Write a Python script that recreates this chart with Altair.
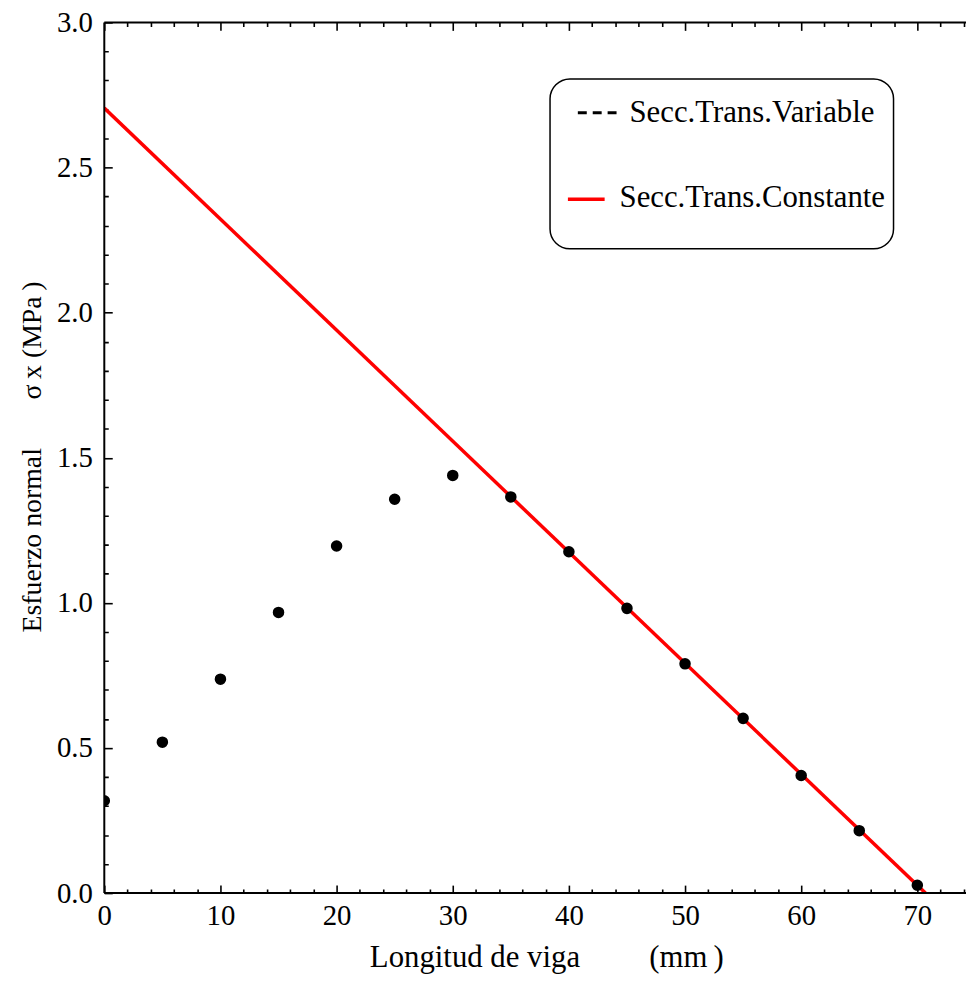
import altair as alt
import pandas as pd

# ---- data ----
var_x = [0, 5, 10, 15, 20, 25, 30, 35, 40, 45, 50, 55, 60, 65, 70]
var_y = [0.318, 0.520, 0.737, 0.967, 1.196, 1.357, 1.439, 1.365, 1.176, 0.981,
         0.790, 0.602, 0.405, 0.215, 0.027]
const_x = [0.0, 70.7]
const_y = [2.705, 0.0]

x_major = [0, 10, 20, 30, 40, 50, 60, 70]
x_minor = [2, 4, 6, 8, 12, 14, 16, 18, 22, 24, 26, 28, 32, 34, 36, 38, 42, 44,
           46, 48, 52, 54, 56, 58, 62, 64, 66, 68, 72, 74]
y_major = [0.0, 0.5, 1.0, 1.5, 2.0, 2.5, 3.0]
y_minor = [0.1, 0.2, 0.3, 0.4, 0.6, 0.7, 0.8, 0.9, 1.1, 1.2, 1.3, 1.4, 1.6, 1.7,
           1.8, 1.9, 2.1, 2.2, 2.3, 2.4, 2.6, 2.7, 2.8, 2.9]
x_lim = [0.0, 74.19]
y_lim = [0.0, 3.0]

legend_labels = ["Secc.Trans.Variable", "Secc.Trans.Constante"]

x_title = "Longitud de viga" + "\u00a0" * 9 + "(mm\u2009)"
y_title = "Esfuerzo normal" + "\u00a0" * 7 + "\u03c3\u2009x\u00a0(MPa\u2009)"

W, H = 868, 877
FONT = "Liberation Serif"
TICK = 8  # inward tick length (axes are pulled inside by this much)

xs = alt.Scale(domain=x_lim, nice=False, zero=False)
ys = alt.Scale(domain=y_lim, nice=False, zero=False)

x_vals = sorted(x_major + x_minor)
y_vals = sorted(y_major + y_minor)
x_minor_test = "datum.value % 10 !== 0"
y_minor_test = "round(datum.value * 10) % 5 !== 0"
minor_dash = [0, 4, 4]

common_axis = dict(domain=False, grid=False, ticks=True, tickSize=TICK,
                   tickWidth=1.6, tickColor="black", offset=-TICK,
                   labelFont=FONT, labelFontSize=29, labelColor="black",
                   labelFlush=False, labelOverlap=False)

xaxis_bottom = alt.Axis(values=x_vals, format="d",
                        labelExpr="datum.value % 10 === 0 ? datum.label : ''",
                        tickDash={"condition": {"test": x_minor_test, "value": minor_dash},
                                  "value": []},
                        labelPadding=9,
                        title=x_title, titleFont=FONT, titleFontSize=31,
                        titleFontWeight="normal", titleColor="black",
                        titleAlign="left", titleAnchor="start",
                        titleX=267, titleY=74 + TICK, titleBaseline="alphabetic",
                        **common_axis)
xaxis_top = alt.Axis(orient="top", values=x_vals, labels=False, title="",
                     tickDash={"condition": {"test": x_minor_test, "value": minor_dash},
                               "value": []},
                     **common_axis)
yaxis = alt.Axis(values=y_vals, format=".1f",
                 labelExpr="round(datum.value * 10) % 5 === 0 ? datum.label : ''",
                 tickDash={"condition": {"test": y_minor_test, "value": minor_dash},
                           "value": []},
                 labelPadding=12,
                 title=y_title, titleFont=FONT, titleFontSize=28,
                 titleFontWeight="normal", titleColor="black",
                 titleAngle=270, titleAlign="left", titleAnchor="start",
                 titleX=-64 - TICK, titleY=614, titleBaseline="alphabetic",
                 **common_axis)

df_var = pd.DataFrame({"x": var_x, "y": var_y})
df_const = pd.DataFrame({"x": const_x, "y": const_y})

line = alt.Chart(df_const).mark_line(color="#ff0000", strokeWidth=3.5, clip=True).encode(
    x=alt.X("x:Q", scale=xs, axis=xaxis_bottom),
    y=alt.Y("y:Q", scale=ys, axis=yaxis))
pts = alt.Chart(df_var).mark_circle(color="black", opacity=1, size=135, clip=True).encode(
    x=alt.X("x:Q", scale=xs, axis=xaxis_top),
    y=alt.Y("y:Q", scale=ys, axis=yaxis))

one = pd.DataFrame({"a": [0]})
frame_bottom = alt.Chart(one).mark_rule(color="black", strokeWidth=2).encode(
    x=alt.value(0), x2=alt.value(W), y=alt.value(H))
frame_top = alt.Chart(one).mark_rule(color="black", strokeWidth=2).encode(
    x=alt.value(0), x2=alt.value(W), y=alt.value(0))
frame_left = alt.Chart(one).mark_rule(color="black", strokeWidth=2).encode(
    x=alt.value(0), y=alt.value(0), y2=alt.value(H))

# legend
leg_df = pd.DataFrame({"label": legend_labels})
box = alt.Chart(one).mark_rect(
    fill="white", stroke="black", strokeWidth=1.5, cornerRadius=20).encode(
    x=alt.value(449), x2=alt.value(795), y=alt.value(57), y2=alt.value(228))
leg_dash = alt.Chart(one).mark_rule(
    color="black", strokeWidth=3, strokeDash=[9, 6]).encode(
    x=alt.value(477), x2=alt.value(516), y=alt.value(91))
leg_red = alt.Chart(one).mark_rule(
    color="#ff0000", strokeWidth=3.5).encode(
    x=alt.value(467), x2=alt.value(504), y=alt.value(178))
leg_t1 = alt.Chart(leg_df.iloc[[0]]).mark_text(
    font=FONT, fontSize=31, color="black", align="left", baseline="alphabetic").encode(
    text="label:N", x=alt.value(529), y=alt.value(100))
leg_t2 = alt.Chart(leg_df.iloc[[1]]).mark_text(
    font=FONT, fontSize=31, color="black", align="left", baseline="alphabetic").encode(
    text="label:N", x=alt.value(519), y=alt.value(186))

chart = alt.layer(line, pts, frame_bottom, frame_top, frame_left,
                  box, leg_dash, leg_red, leg_t1, leg_t2).resolve_axis(
    x="independent"
).properties(
    width=W, height=H,
    padding={"left": 97, "top": 11, "right": 0, "bottom": 80},
    autosize=alt.AutoSizeParams(type="none"),
    background="white",
).configure_view(stroke=None)

chart.save("out.html", embed_options={"renderer": "svg", "actions": False})
